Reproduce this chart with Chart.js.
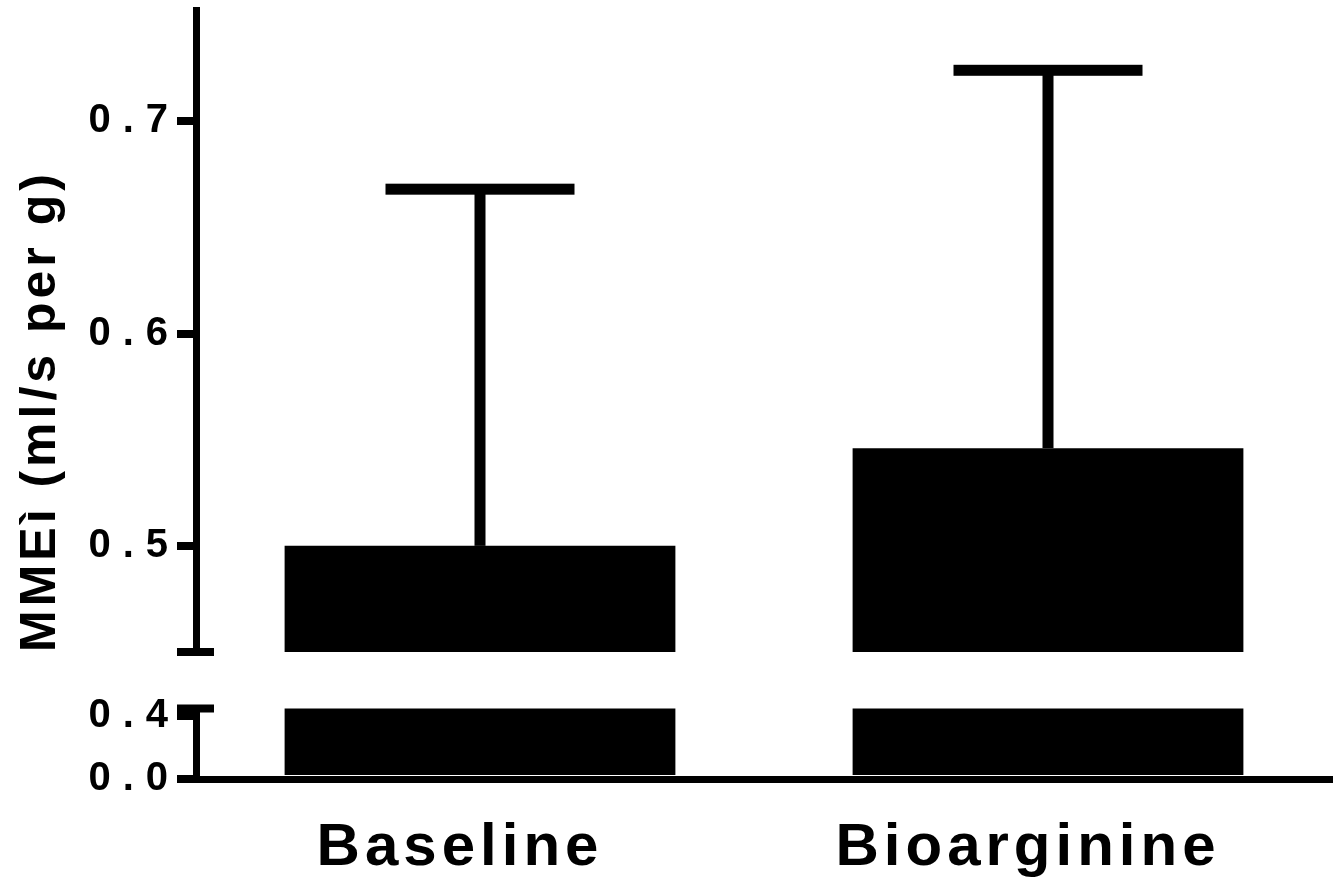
<!DOCTYPE html>
<html>
<head>
<meta charset="utf-8">
<script src="https://cdn.jsdelivr.net/npm/chart.js@4.4.1/dist/chart.umd.min.js"></script>
<style>
  html, body { margin: 0; background: #fff; }
  #wrap { position: relative; width: 1333px; height: 877px; overflow: hidden; }
  #upper { position: absolute; left: 0; top: 0; }
  #lower { position: absolute; left: 0; top: 690px; }
</style>
</head>
<body>
<div id="wrap">
  <canvas id="upper" width="1333" height="665"></canvas>
  <canvas id="lower" width="1333" height="187"></canvas>
</div>
<script>
// -------------------------------------------------------
// DATA
const categories = ["Baseline", "Bioarginine"];
const meanValues = [0.50, 0.546];
const sdValues = [0.168, 0.178];
const upperTicks = [0.5, 0.6, 0.7];
const lowerTicks = [0.0, 0.4];
const breakValue = 0.45;   // axis break between the two segments
const upperMax = 0.7524;
const yTitle = "MMEì (ml/s per g)";

const FONT = "'Liberation Sans', Arial, sans-serif";
// letter spacing per font size (the original uses widely spaced text)
const spacingBySize = { 40: "12px", 50: "4px", 60: "5px" };

// -------------------------------------------------------
// PLUGINS
// Chart.js has no letter-spacing option, so set it on the context before each text call
const spacingPlugin = {
  id: "spacing",
  beforeInit(chart) {
    const ctx = chart.ctx;
    const fill = ctx.fillText.bind(ctx);
    const measure = ctx.measureText.bind(ctx);
    const apply = () => {
      const m = /(\d+(?:\.\d+)?)px/.exec(ctx.font);
      ctx.letterSpacing = (m && spacingBySize[Math.round(m[1])]) || "0px";
    };
    ctx.fillText = (t, x, y, w) => { apply(); return w === undefined ? fill(t, x, y) : fill(t, x, y, w); };
    ctx.measureText = (t) => { apply(); return measure(t); };
  },
};

// short horizontal cap on the y axis where it is broken
const breakCapPlugin = {
  id: "breakCap",
  afterDraw(chart, args, opts) {
    const y = chart.scales.y;
    const ctx = chart.ctx;
    const py = y.getPixelForValue(opts.value);
    ctx.save();
    ctx.fillStyle = "#000";
    ctx.fillRect(y.right - 19, py - 4, 37, 8);
    ctx.restore();
  },
};

// SD error bars (upper segment only)
const errorBarPlugin = {
  id: "errorBars",
  afterDatasetsDraw(chart) {
    const meta = chart.getDatasetMeta(0);
    const y = chart.scales.y;
    const ctx = chart.ctx;
    ctx.save();
    ctx.fillStyle = "#000";
    meta.data.forEach((bar, i) => {
      const top = y.getPixelForValue(meanValues[i] + sdValues[i]);
      const base = y.getPixelForValue(meanValues[i]);
      ctx.fillRect(bar.x - 5.5, top, 11, base - top);
      ctx.fillRect(bar.x - 94.5, top - 5.5, 189, 11);
    });
    ctx.restore();
  },
};

function yAxis(min, max, tickList, withTitle) {
  return {
    min, max,
    afterBuildTicks: (s) => { s.ticks = tickList.map((v) => ({ value: v })); },
    afterFit: (s) => { s.width = 196; s.paddingTop = 0; s.paddingBottom = 0; },
    grid: { drawOnChartArea: false, drawTicks: true, tickLength: 19, color: "#000", lineWidth: 8 },
    border: { display: true, color: "#000", width: 7 },
    ticks: {
      color: "#000",
      padding: -3,
      font: { family: FONT, size: 40, weight: "bold" },
      callback: (v) => Number(v).toFixed(1),
    },
    title: {
      display: withTitle,
      text: yTitle,
      align: "start",
      color: "#000",
      font: { family: FONT, size: 50, weight: "bold" },
      padding: { top: 11, bottom: 0 },
    },
  };
}

const dataset = () => ({
  data: meanValues,
  backgroundColor: "#000",
  borderWidth: 0,
  barPercentage: 0.688,
  categoryPercentage: 1.0,
});

// -------------------------------------------------------
// UPPER SEGMENT
new Chart(document.getElementById("upper"), {
  type: "bar",
  data: { labels: categories, datasets: [dataset()] },
  options: {
    responsive: false,
    animation: false,
    layout: { padding: { top: 10, bottom: 13, left: 0, right: 1 } },
    plugins: {
      legend: { display: false },
      tooltip: { enabled: false },
      breakCap: { value: breakValue },
    },
    scales: {
      x: { display: false },
      y: yAxis(breakValue, upperMax, upperTicks, true),
    },
  },
  plugins: [spacingPlugin, errorBarPlugin, breakCapPlugin],
});

// -------------------------------------------------------
// LOWER SEGMENT
new Chart(document.getElementById("lower"), {
  type: "bar",
  data: { labels: categories, datasets: [dataset()] },
  options: {
    responsive: false,
    animation: false,
    layout: { padding: { top: 18.5, bottom: 0, left: 0, right: 1 } },
    plugins: {
      legend: { display: false },
      tooltip: { enabled: false },
      breakCap: { value: breakValue },
    },
    scales: {
      x: {
        afterFit: (s) => { s.height = 98; s.paddingLeft = 0; s.paddingRight = 0; },
        grid: { drawOnChartArea: false, drawTicks: false },
        border: { display: true, color: "#000", width: 7 },
        ticks: {
          color: "#000",
          padding: 33,
          labelOffset: -20,
          font: { family: FONT, size: 60, weight: "bold" },
        },
      },
      y: yAxis(0, breakValue, lowerTicks, false),
    },
  },
  plugins: [spacingPlugin, breakCapPlugin],
});
</script>
</body>
</html>
